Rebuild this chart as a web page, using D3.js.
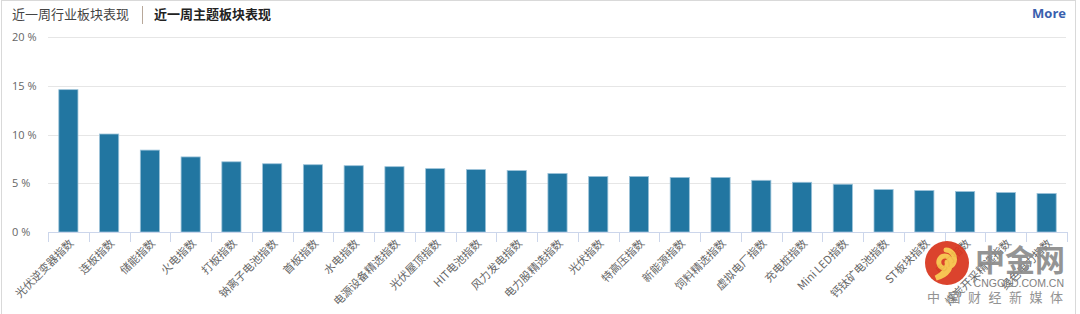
<!DOCTYPE html>
<html>
<head>
<meta charset="utf-8">
<script src="https://cdn.jsdelivr.net/npm/d3@7"></script>
<style>
  body { margin: 0; background: #fff; }
  svg { display: block; font-family: "Noto Sans CJK SC", "Open Sans", sans-serif; }
</style>
</head>
<body>
<div class="chart"></div>
<script>
// theme sectors, last week's change (%)
const categories = ['光伏逆变器指数', '连板指数', '储能指数', '火电指数', '打板指数', '钠离子电池指数',
  '首板指数', '水电指数', '电源设备精选指数', '光伏屋顶指数', 'HIT电池指数', '风力发电指数',
  '电力股精选指数', '光伏指数', '特高压指数', '新能源指数', '饲料精选指数', '虚拟电厂指数',
  '充电桩指数', 'Mini LED指数', '钙钛矿电池指数', 'ST板块指数', '电力指数', '煤炭开采精选指数', '绿色电力指数'];
const values = [14.6, 10.05, 8.4, 7.7, 7.2, 7.0, 6.9, 6.8, 6.7, 6.5, 6.4, 6.3,
  6.0, 5.7, 5.7, 5.6, 5.6, 5.3, 5.1, 4.9, 4.35, 4.25, 4.15, 4.05, 3.95];
const yTicks = [0, 5, 10, 15, 20];
const tabs = ['近一周行业板块表现', '近一周主题板块表现'];

const width = 1080, height = 314;
const svg = d3.select('.chart').append('svg')
  .attr('width', width)
  .attr('height', height);

// outer frame
svg.append('rect')
  .attr('x', 1.5).attr('y', 0.5)
  .attr('width', 1074).attr('height', 320)
  .style('fill', 'none')
  .style('stroke', '#d9d9d9');

// header
svg.append('text').text(tabs[0])
  .attr('x', 12).attr('y', 19)
  .style('font-size', '13px').style('fill', '#444');
svg.append('line')
  .attr('x1', 142.5).attr('x2', 142.5).attr('y1', 6).attr('y2', 24)
  .style('stroke', '#b8a89a');
svg.append('text').text(tabs[1])
  .attr('x', 154).attr('y', 19)
  .style('font-size', '13px').style('font-weight', 'bold').style('fill', '#222');
svg.append('text').text('More')
  .attr('x', 1066).attr('y', 18)
  .attr('text-anchor', 'end')
  .style('font-family', 'Open Sans, sans-serif')
  .style('font-size', '13px').style('font-weight', 'bold').style('fill', '#3a5fae');

const x = d3.scaleBand().domain(categories).range([48, 1067]).paddingInner(0.53).paddingOuter(0.265);
const y = d3.scaleLinear().domain([0, 20]).range([232, 37]);

// grid lines
svg.append('g').selectAll('line').data(yTicks.filter(d => d > 0)).join('line')
  .attr('x1', 48).attr('x2', 1066)
  .attr('y1', d => Math.round(y(d)) + 0.5).attr('y2', d => Math.round(y(d)) + 0.5)
  .style('stroke', '#e6e6e6');

// y labels
svg.append('g').selectAll('text').data(yTicks).join('text')
  .text(d => d + ' %')
  .attr('x', 12).attr('y', d => y(d) + 4)
  .style('font-family', 'Open Sans, sans-serif')
  .style('font-size', '11px').style('fill', '#666');

// bars
svg.append('g').selectAll('rect').data(values).join('rect')
  .attr('x', (d, i) => x(categories[i]))
  .attr('y', d => y(d))
  .attr('width', x.bandwidth())
  .attr('height', d => y(0) - y(d))
  .style('fill', '#2276a1')
  .style('stroke', '#9cc3d9')
  .style('stroke-width', 0.8);

// x axis
const step = x.step();
svg.append('line')
  .attr('x1', 48).attr('x2', 1067).attr('y1', 232.5).attr('y2', 232.5)
  .style('stroke', '#ccd6eb');
svg.append('g').selectAll('line').data(d3.range(categories.length + 1)).join('line')
  .attr('x1', i => Math.round(48 + i * step) + 0.5).attr('x2', i => Math.round(48 + i * step) + 0.5)
  .attr('y1', 232).attr('y2', 242)
  .style('stroke', '#ccd6eb');

svg.append('g').selectAll('text').data(categories).join('text')
  .text(d => d)
  .attr('text-anchor', 'end')
  .attr('transform', d => `translate(${x(d) + x.bandwidth() / 2 + 6},${244}) rotate(-45)`)
  .style('font-size', '11px').style('fill', '#666');

// watermark (drawn over the labels like the original)
const wm = svg.append('g').style('opacity', 0.92);
wm.append('circle').attr('cx', 947).attr('cy', 263).attr('r', 22).style('fill', '#d9341c');
wm.append('path')
  .attr('d', 'M946,250 a9,9 0 1 1 -1,18 a6,6 0 1 1 5,-9 c3,7 -2,16 -14,19 c10,-6 12,-12 11,-16')
  .style('fill', 'none')
  .style('stroke', '#f7bf45')
  .style('stroke-width', 5)
  .style('stroke-linecap', 'round');
wm.append('text').text('中金网').attr('x', 1065).attr('y', 271)
  .attr('text-anchor', 'end')
  .style('font-size', '30px').style('font-weight', 'bold').style('fill', '#8c8c8c');
wm.append('text').text('CNGOLD.COM.CN').attr('x', 1064).attr('y', 287)
  .attr('text-anchor', 'end')
  .style('font-family', 'Liberation Sans, sans-serif')
  .style('font-size', '10.5px').style('fill', '#777');
wm.append('text').text('中国财经新媒体').attr('x', 927).attr('y', 302)
  .style('font-size', '13px').style('letter-spacing', '7.5px').style('fill', '#8a8a8a');
</script>
</body>
</html>
